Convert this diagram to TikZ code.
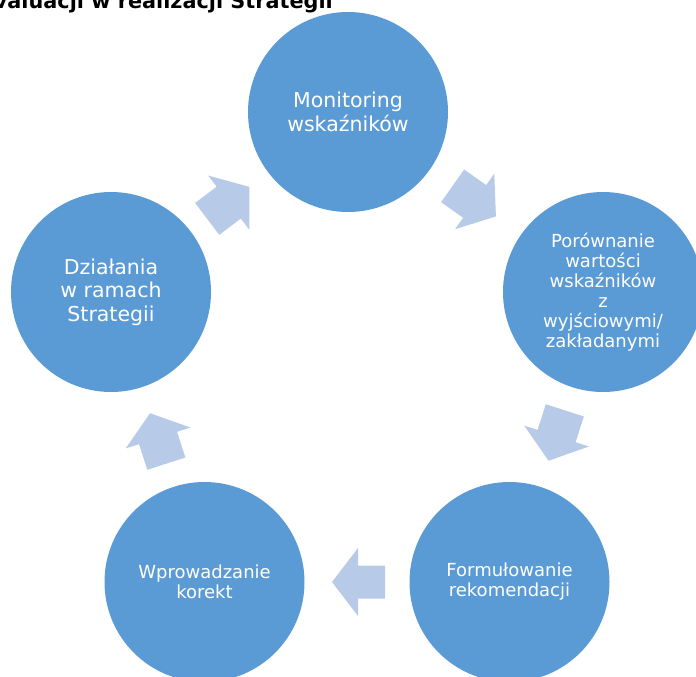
\documentclass[tikz,border=0pt]{standalone}
\usepackage{fontspec}
\setmainfont{DejaVu Sans}
\usepackage{xcolor}
\usepackage{tikz}
\usetikzlibrary{calc}

\definecolor{phaseblue}{RGB}{91,155,213}
\definecolor{arrowblue}{RGB}{183,203,232}

\begin{document}
\begin{tikzpicture}[
    x=1pt, y=-1pt,
    phase/.style={circle, fill=phaseblue, minimum size=200pt, inner sep=0pt, text=white, align=center},
    bigfont/.style={font=\fontsize{20.5}{23.5}\selectfont},
    smallfont/.style={font=\fontsize{18}{20}\selectfont},
    heading/.style={anchor=base east, inner sep=0pt, font=\fontsize{20.8}{24}\selectfont\bfseries}
]

\useasboundingbox (0,0) rectangle (696,677);
\clip (0,0) rectangle (696,677);

\node[heading] (title) at (333,9) {valuacji w realizacji Strategii};

\node[phase, bigfont] (mon) at (348,112) {Monitoring\\wskaźników};
\node[phase, smallfont] (por) at (603,292) {Porównanie\\wartości\\wskaźników\\z\\wyjściowymi/\\zakładanymi};
\node[phase, smallfont] (form) at (509.5,582) {Formułowanie\\rekomendacji};
\node[phase, smallfont] (wpr) at (204.5,582) {Wprowadzanie\\korekt};
\node[phase, bigfont] (dzial) at (111,292) {Działania\\w ramach\\Strategii};

% block arrows between the phases
\foreach \a/\b/\w in {mon/por/20pt, por/form/20pt, form/wpr/16.5pt, wpr/dzial/20pt, dzial/mon/20pt} {
  \path ($(\a)!0.5!(\b)$) coordinate (m)
        ($(m)!28pt!180:(\b)$) coordinate (tail)
        ($(m)!1pt!180:(\b)$) coordinate (neck)
        ($(m)!25pt!(\b)$) coordinate (tip);
  \fill[arrowblue] ($(tail)!\w!90:(tip)$) -- ($(neck)!\w!90:(tip)$) -- ($(neck)!34pt!90:(tip)$)
    -- (tip) -- ($(neck)!34pt!-90:(tip)$) -- ($(neck)!\w!-90:(tip)$) -- ($(tail)!\w!-90:(tip)$) -- cycle;
}

\end{tikzpicture}
\end{document}
